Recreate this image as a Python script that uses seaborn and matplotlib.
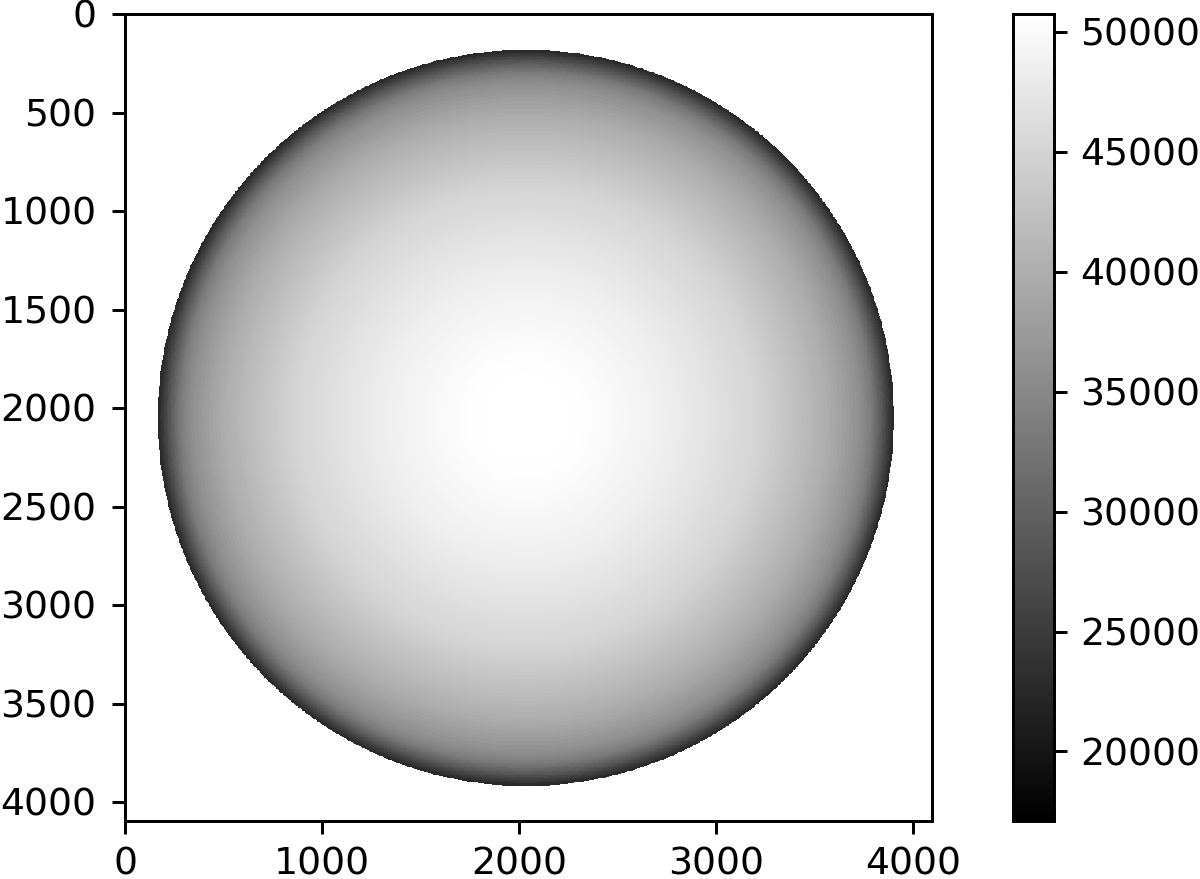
import numpy as np
import seaborn as sns
import matplotlib.pyplot as plt
from matplotlib.transforms import ScaledTranslation

# Radial brightness: outer radius of each ring
# (fraction of disk radius) and the value inside it
ring_radius = [0.01, 0.02, 0.03, 0.04, 0.05, 0.06, 0.07, 0.08, 0.09, 0.10,
               0.11, 0.12, 0.13, 0.14, 0.15, 0.16, 0.17, 0.18, 0.19, 0.20,
               0.21, 0.22, 0.23, 0.24, 0.25, 0.26, 0.27, 0.28, 0.29, 0.30,
               0.31, 0.32, 0.33, 0.34, 0.35, 0.36, 0.37, 0.38, 0.39, 0.40,
               0.41, 0.42, 0.43, 0.44, 0.45, 0.46, 0.47, 0.48, 0.49, 0.50,
               0.51, 0.52, 0.53, 0.54, 0.55, 0.56, 0.57, 0.58, 0.59, 0.60,
               0.61, 0.62, 0.63, 0.64, 0.65, 0.66, 0.67, 0.68, 0.69, 0.70,
               0.71, 0.72, 0.73, 0.74, 0.75, 0.76, 0.77, 0.78, 0.79, 0.80,
               0.81, 0.82, 0.83, 0.84, 0.85, 0.86, 0.87, 0.88, 0.89, 0.90,
               0.904, 0.908, 0.912, 0.916, 0.920, 0.924, 0.928, 0.932, 0.936, 0.940,
               0.944, 0.948, 0.952, 0.956, 0.960, 0.964, 0.968, 0.972, 0.976, 0.980,
               0.984, 0.988, 0.992, 0.996, 1.000]
ring_value = [50740, 50740, 50735, 50730, 50725, 50720, 50710, 50700, 50690, 50680,
              50660, 50640, 50610, 50580, 50540, 50490, 50430, 50370, 50290, 50210,
              50120, 50030, 49940, 49850, 49760, 49670, 49580, 49490, 49400, 49310,
              49220, 49130, 49040, 48950, 48860, 48770, 48660, 48550, 48430, 48310,
              48190, 48070, 47950, 47830, 47710, 47570, 47430, 47290, 47150, 47000,
              46850, 46700, 46550, 46400, 46260, 46110, 45970, 45820, 45680, 45530,
              45380, 45230, 45080, 44850, 44600, 44350, 44100, 43850, 43600, 43350,
              43100, 42840, 42560, 42280, 42000, 41720, 41440, 41160, 40880, 40600,
              40320, 40000, 39600, 39200, 38800, 38400, 37950, 37500, 37050, 36550,
              36250, 36000, 35700, 35400, 35100, 34750, 34400, 34050, 33700, 33300,
              32800, 32200, 31500, 30900, 30200, 29500, 28800, 28100, 27300, 26400,
              25600, 24800, 24000, 23100, 22500]

disk_center = (2035, 2050)
disk_radius = 1868
image_size = 4096
cell = 4

x_ticks = [0, 1000, 2000, 3000, 4000]
y_ticks = [0, 500, 1000, 1500, 2000, 2500, 3000, 3500, 4000]
cbar_ticks = [20000, 25000, 30000, 35000, 40000, 45000, 50000]
vmin, vmax = 17100, 50750

# every cell takes the value of the ring it falls in
centres = (np.arange(image_size // cell) + 0.5) * cell
X, Y = np.meshgrid(centres, centres)
r = np.hypot(X - disk_center[0], Y - disk_center[1]) / disk_radius
outside = r > 1
idx = np.searchsorted(ring_radius, np.clip(r, 0, 1))
Z = np.array(ring_value, dtype=float)[idx]

W, H = 1200, 879
fig = plt.figure(figsize=((W + 0.01) / 267, (H + 0.01) / 267), dpi=267)
ax = fig.add_axes([125 / W, 1 - 821 / H, 807 / W, 807 / H])
cax = fig.add_axes([1013 / W, 1 - 821 / H, 41 / W, 807 / H])

sns.heatmap(Z, mask=outside, cmap='gray', vmin=vmin, vmax=vmax, ax=ax, cbar_ax=cax,
            square=False, cbar_kws={'ticks': cbar_ticks})

for s in ax.spines.values():
    s.set_visible(True)
    s.set_linewidth(0.8)
    s.set_color('black')

ax.set_xticks([t / cell for t in x_ticks])
ax.set_xticklabels([str(t) for t in x_ticks], rotation=0)
ax.set_yticks([t / cell for t in y_ticks])
ax.set_yticklabels([str(t) for t in y_ticks], rotation=0)
ax.tick_params(length=3.5, width=0.8, labelsize=10.2)
ax.tick_params(axis='y', pad=4.2)

cb = ax.collections[0].colorbar
cb.outline.set_visible(True)
cb.outline.set_linewidth(0.8)
cb.ax.tick_params(length=3.5, width=0.8, labelsize=10.2)

# labels sit a touch below their ticks in the reference
down = ScaledTranslation(0, -3.5 / 267, fig.dpi_scale_trans)
for lab in ax.get_yticklabels():
    lab.set_transform(lab.get_transform() + down)

fig.savefig('out.png', dpi=267)
